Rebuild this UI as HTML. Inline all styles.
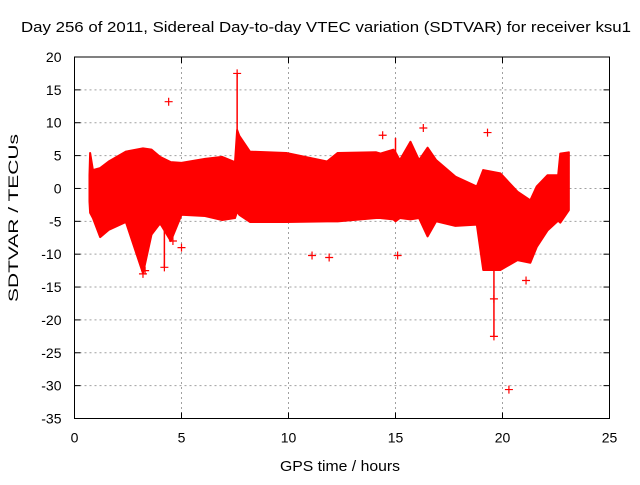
<!DOCTYPE html>
<html><head><meta charset="utf-8"><style>
body{margin:0;background:#fff}
svg text{font-family:"Liberation Sans",sans-serif;font-size:14px;fill:#000}
</style></head><body>
<svg id="chart" width="640" height="480">
<text x="326" y="32" text-anchor="middle" textLength="610" lengthAdjust="spacingAndGlyphs" style="font-size:15px">Day 256 of 2011, Sidereal Day-to-day VTEC variation (SDTVAR) for receiver ksu1</text>
<text x="340" y="471" text-anchor="middle" textLength="120" lengthAdjust="spacingAndGlyphs" style="font-size:15px">GPS time / hours</text>
<text transform="translate(18,218) rotate(-90)" text-anchor="middle" textLength="168" lengthAdjust="spacingAndGlyphs" style="font-size:14px">SDTVAR / TECUs</text>
<g id="grid"></g><g id="marks"></g><g id="axes"></g>
</svg>
<script>
const xTicks=[0,5,10,15,20,25];
const yTicks=[20,15,10,5,0,-5,-10,-15,-20,-25,-30,-35];
const bandTime=[0.7,0.73,0.86,1.2,1.6,2.4,3.2,3.6,4.0,4.5,5.0,6.1,6.9,7.5,7.6,7.7,8.2,9.9,11.8,12.3,14.1,14.3,14.9,15.0,15.2,15.7,16.1,16.5,16.9,17.8,18.8,19.1,19.9,20.7,21.3,21.6,22.1,22.6,22.7,23.1];
const bandUpper=[2,5.4,2.8,3.1,4.1,5.6,6.1,5.9,4.8,4.0,3.9,4.5,4.8,4.0,8.9,8.0,5.6,5.4,4.1,5.4,5.5,5.3,5.9,5.5,4.3,7.1,4.3,6.2,4.3,1.8,0.3,2.8,2.3,-0.5,-1.8,0.3,2.0,2.0,5.3,5.5];
const bandLower=[-2,-3.7,-4.5,-7.4,-6.3,-5.1,-12.9,-7.0,-5.3,-8.0,-4.0,-4.2,-4.8,-4.5,-3.5,-4.0,-5.1,-5.1,-5.0,-5.0,-4.5,-4.5,-4.7,-5.0,-4.5,-4.7,-4.5,-7.3,-5.0,-5.7,-5.5,-12.4,-12.4,-10.9,-11.3,-8.9,-6.4,-4.9,-5.2,-3.3];
const spikeTime=[7.6,19.6,4.2,15.0];
const spikeFrom=[8.9,-12,-4,4.3];
const spikeTo=[17.5,-22.5,-12,7.7];
const outTime=[4.4,7.6,14.4,16.3,19.3,11.1,11.9,15.1,19.6,19.6,20.3,3.2,4.2,5.0,21.1,3.3,4.6];
const outVal=[13.2,17.5,8.1,9.2,8.5,-10.2,-10.5,-10.2,-22.5,-16.8,-30.6,-13,-12,-9,-14,-12.5,-8];
const L=74.5,R=609.5,T=57,B=418.5;
const sx=v=>L+(v-0)/25*(R-L);
const sy=v=>T+(20-v)/55*(B-T);
const NS="http://www.w3.org/2000/svg";
function mk(p,tag,at){const e=document.createElementNS(NS,tag);for(const k in at)e.setAttribute(k,at[k]);p.appendChild(e);return e;}
const grid=document.getElementById('grid'),marks=document.getElementById('marks'),axes=document.getElementById('axes');
xTicks.forEach(v=>{const x=sx(v);
 if(v>0&&v<25){const g=mk(grid,'line',{x1:x,x2:x,y1:T,y2:B,stroke:'#a0a0a0','stroke-dasharray':'2,3'});
 }
 mk(axes,'line',{x1:x,x2:x,y1:B,y2:B-6,stroke:'#000'});mk(axes,'line',{x1:x,x2:x,y1:T,y2:T+6,stroke:'#000'});
 const t=mk(axes,'text',{x:x,y:B+24,'text-anchor':'middle'});t.textContent=v;
 });
yTicks.forEach(v=>{const y=sy(v);
 if(v<20&&v>-35){const g=mk(grid,'line',{x1:L,x2:R,y1:y,y2:y,stroke:'#a0a0a0','stroke-dasharray':'2,3'});
 }
 mk(axes,'line',{x1:L,x2:L+6,y1:y,y2:y,stroke:'#000'});mk(axes,'line',{x1:R,x2:R-6,y1:y,y2:y,stroke:'#000'});
 const t=mk(axes,'text',{x:L-13,y:y+5,'text-anchor':'end'});t.textContent=v;
 });
const frame=mk(axes,'rect',{x:L,y:T,width:R-L,height:B-T,fill:'none',stroke:'#000','stroke-width':1});

let pts=bandTime.map((t,i)=>sx(t)+','+sy(bandUpper[i]));
for(let i=bandTime.length-1;i>=0;i--)pts.push(sx(bandTime[i])+','+sy(bandLower[i]));
const band=mk(marks,'polygon',{points:pts.join(' '),fill:'#ff0000',stroke:'#ff0000','stroke-width':2,'stroke-linejoin':'round'});

spikeTime.forEach((t,i)=>{const s=mk(marks,'line',{x1:sx(t),x2:sx(t),y1:sy(spikeFrom[i]),y2:sy(spikeTo[i]),stroke:'#ff0000','stroke-width':1.5});
 });
outTime.forEach((t,i)=>{const x=sx(t),y=sy(outVal[i]);
 const p=mk(marks,'path',{d:`M${x-4},${y}H${x+4}M${x},${y-4}V${y+4}`,stroke:'#ff0000','stroke-width':1.2});
 });
</script>
</body></html>
